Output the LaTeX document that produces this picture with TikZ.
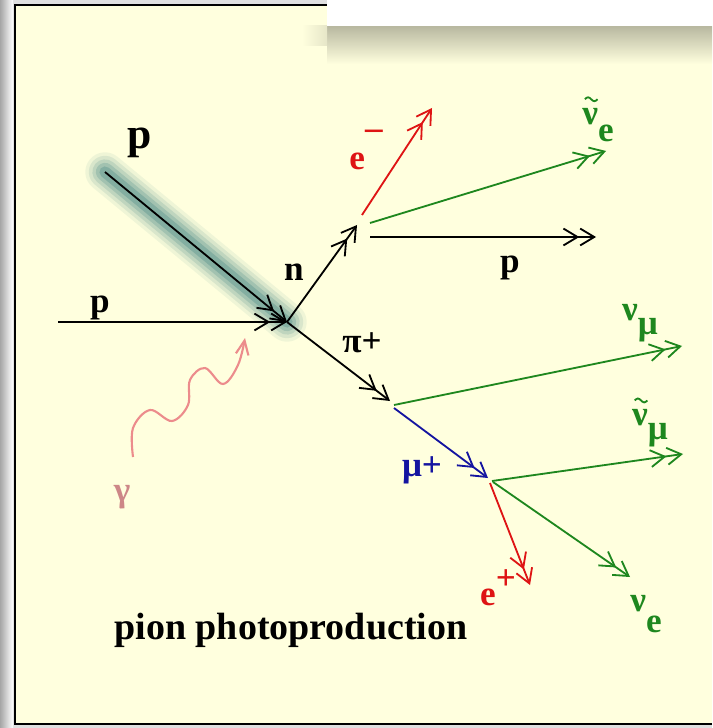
\documentclass[tikz,border=0pt]{standalone}
\usepackage{fontspec}
\setmainfont{Liberation Serif}
\usetikzlibrary{arrows.meta, positioning}

\definecolor{cream}{RGB}{255,255,222}
\definecolor{glowc}{RGB}{60,128,128}
\definecolor{trkred}{RGB}{222,20,20}
\definecolor{trkgreen}{RGB}{30,135,30}
\definecolor{trkblue}{RGB}{20,20,160}
\definecolor{photon}{RGB}{236,140,140}
\definecolor{gamlbl}{RGB}{205,135,135}

% small tilde mark drawn above a label
\newcommand{\tildemark}[1]{%
  \draw[trkgreen, line width=1.3pt] ([xshift=-4.5pt]#1) sin ([xshift=-2.25pt, yshift=1.4pt]#1)
    cos (#1) sin ([xshift=2.25pt, yshift=-1.4pt]#1) cos ([xshift=4.5pt]#1);}

\begin{document}
\begin{tikzpicture}[x=0.025cm, y=-0.025cm, >=Stealth,
      trk/.style={line width=1.3pt,
                  -{Straight Barb[length=10pt,width=12pt] Straight Barb[length=10pt,width=12pt]}},
      lbl/.style={font=\bfseries\fontsize{25}{25}\selectfont, inner sep=0pt}]

    \useasboundingbox (0,0) rectangle (712,728);

    % frame, panel and the white tab on top
    \fill[black!12] (0,0) rectangle (712,728);
    \shade[left color=black!35, right color=white] (0,0) rectangle (13,728);
    \fill[cream] (15,5) rectangle (712,724);
    \draw[line width=1.6pt] (712,724) -- (15,724) -- (15,5) -- (330,5);
    \shade[top color=black!28!cream, bottom color=cream] (327,26) rectangle (712,64);
    \shade[left color=cream, right color=black!10!cream] (302,26) rectangle (327,46);
    \fill[white] (327,-2) rectangle (714,26);

    % vertices
    \coordinate (pin) at (58,322);
    \coordinate (vtx) at (287,322);
    \coordinate (pdia) at (105,172);
    \coordinate (ntip) at (357,225);
    \coordinate (pitip) at (390,401);
    \coordinate (mutip) at (488,478);

    % glow under the incoming diagonal proton
    \foreach \w/\o in {28/0.08, 23/0.12, 18/0.16, 13/0.22, 8/0.3}
      \draw[line width=\w pt, glowc, opacity=\o, line cap=round] (pdia) -- (vtx);

    % incoming particles
    \draw[trk] (pin) -- (vtx);
    \draw[trk] (pdia) -- (vtx);
    \draw[photon, line width=1.5pt, -{Straight Barb[length=10pt,width=9pt]}]
      plot[smooth, tension=0.6] coordinates {(133,457) (133,428) (150,410) (172,421) (188,405) (190,380) (205,368) (223,384) (238,365) (245,338)};

    % neutron branch
    \draw[trk] (vtx) -- (ntip);
    \draw[trk, trkred] (362,215) -- (432,108);
    \draw[trk, trkgreen] (370,223) -- (606,151);
    \draw[trk] (370,237) -- (596,237);

    % pion branch
    \draw[trk] (vtx) -- (pitip);
    \draw[trk, trkgreen] (394,405) -- (682,346);
    \draw[trk, trkblue] (394,408) -- (mutip);
    \draw[trk, trkgreen] (492,481) -- (683,454);
    \draw[trk, trkred] (490,483) -- (530,585);
    \draw[trk, trkgreen] (493,482) -- (630,577);

    % labels
    \node[lbl, font=\bfseries\fontsize{31}{31}\selectfont] (pbeam) at (140,143) {p};
    \node[lbl] (pleft) at (100,308) {p};
    \node[lbl, gamlbl] (gam) at (122,497) {γ};
    \node[lbl] (nlbl) at (294,272) {n};
    \node[lbl, trkred] (emin) at (366,150) {e\raisebox{0.85em}{–}};
    \node[lbl, trkgreen] (nuebar) at (598,125) {ν\raisebox{-0.5em}{e}};
    \coordinate (nuet) at ([xshift=6.5pt, yshift=6pt]nuebar.north west);
    \tildemark{nuet}
    \node[lbl] (pout) at (510,268) {p};
    \node[lbl] (pilbl) at (362,343) {π+};
    \node[lbl, trkgreen] (numu) at (640,323) {ν\raisebox{-0.4em}{μ}};
    \node[lbl, trkgreen] (numubar) at (650,428) {ν\raisebox{-0.4em}{μ}};
    \coordinate (numut) at ([xshift=6.5pt, yshift=6pt]numubar.north west);
    \tildemark{numut}
    \node[lbl, trkblue] (mulbl) at (422,470) {μ+};
    \node[lbl, trkred] (eplus) at (498,588) {e\raisebox{0.45em}{+}};
    \node[lbl, trkgreen] (nue) at (646,614) {ν\raisebox{-0.6em}{e}};
    \node[lbl, font=\bfseries\fontsize{27}{27}\selectfont] (title) at (291,630) {pion photoproduction};

\end{tikzpicture}
\end{document}
